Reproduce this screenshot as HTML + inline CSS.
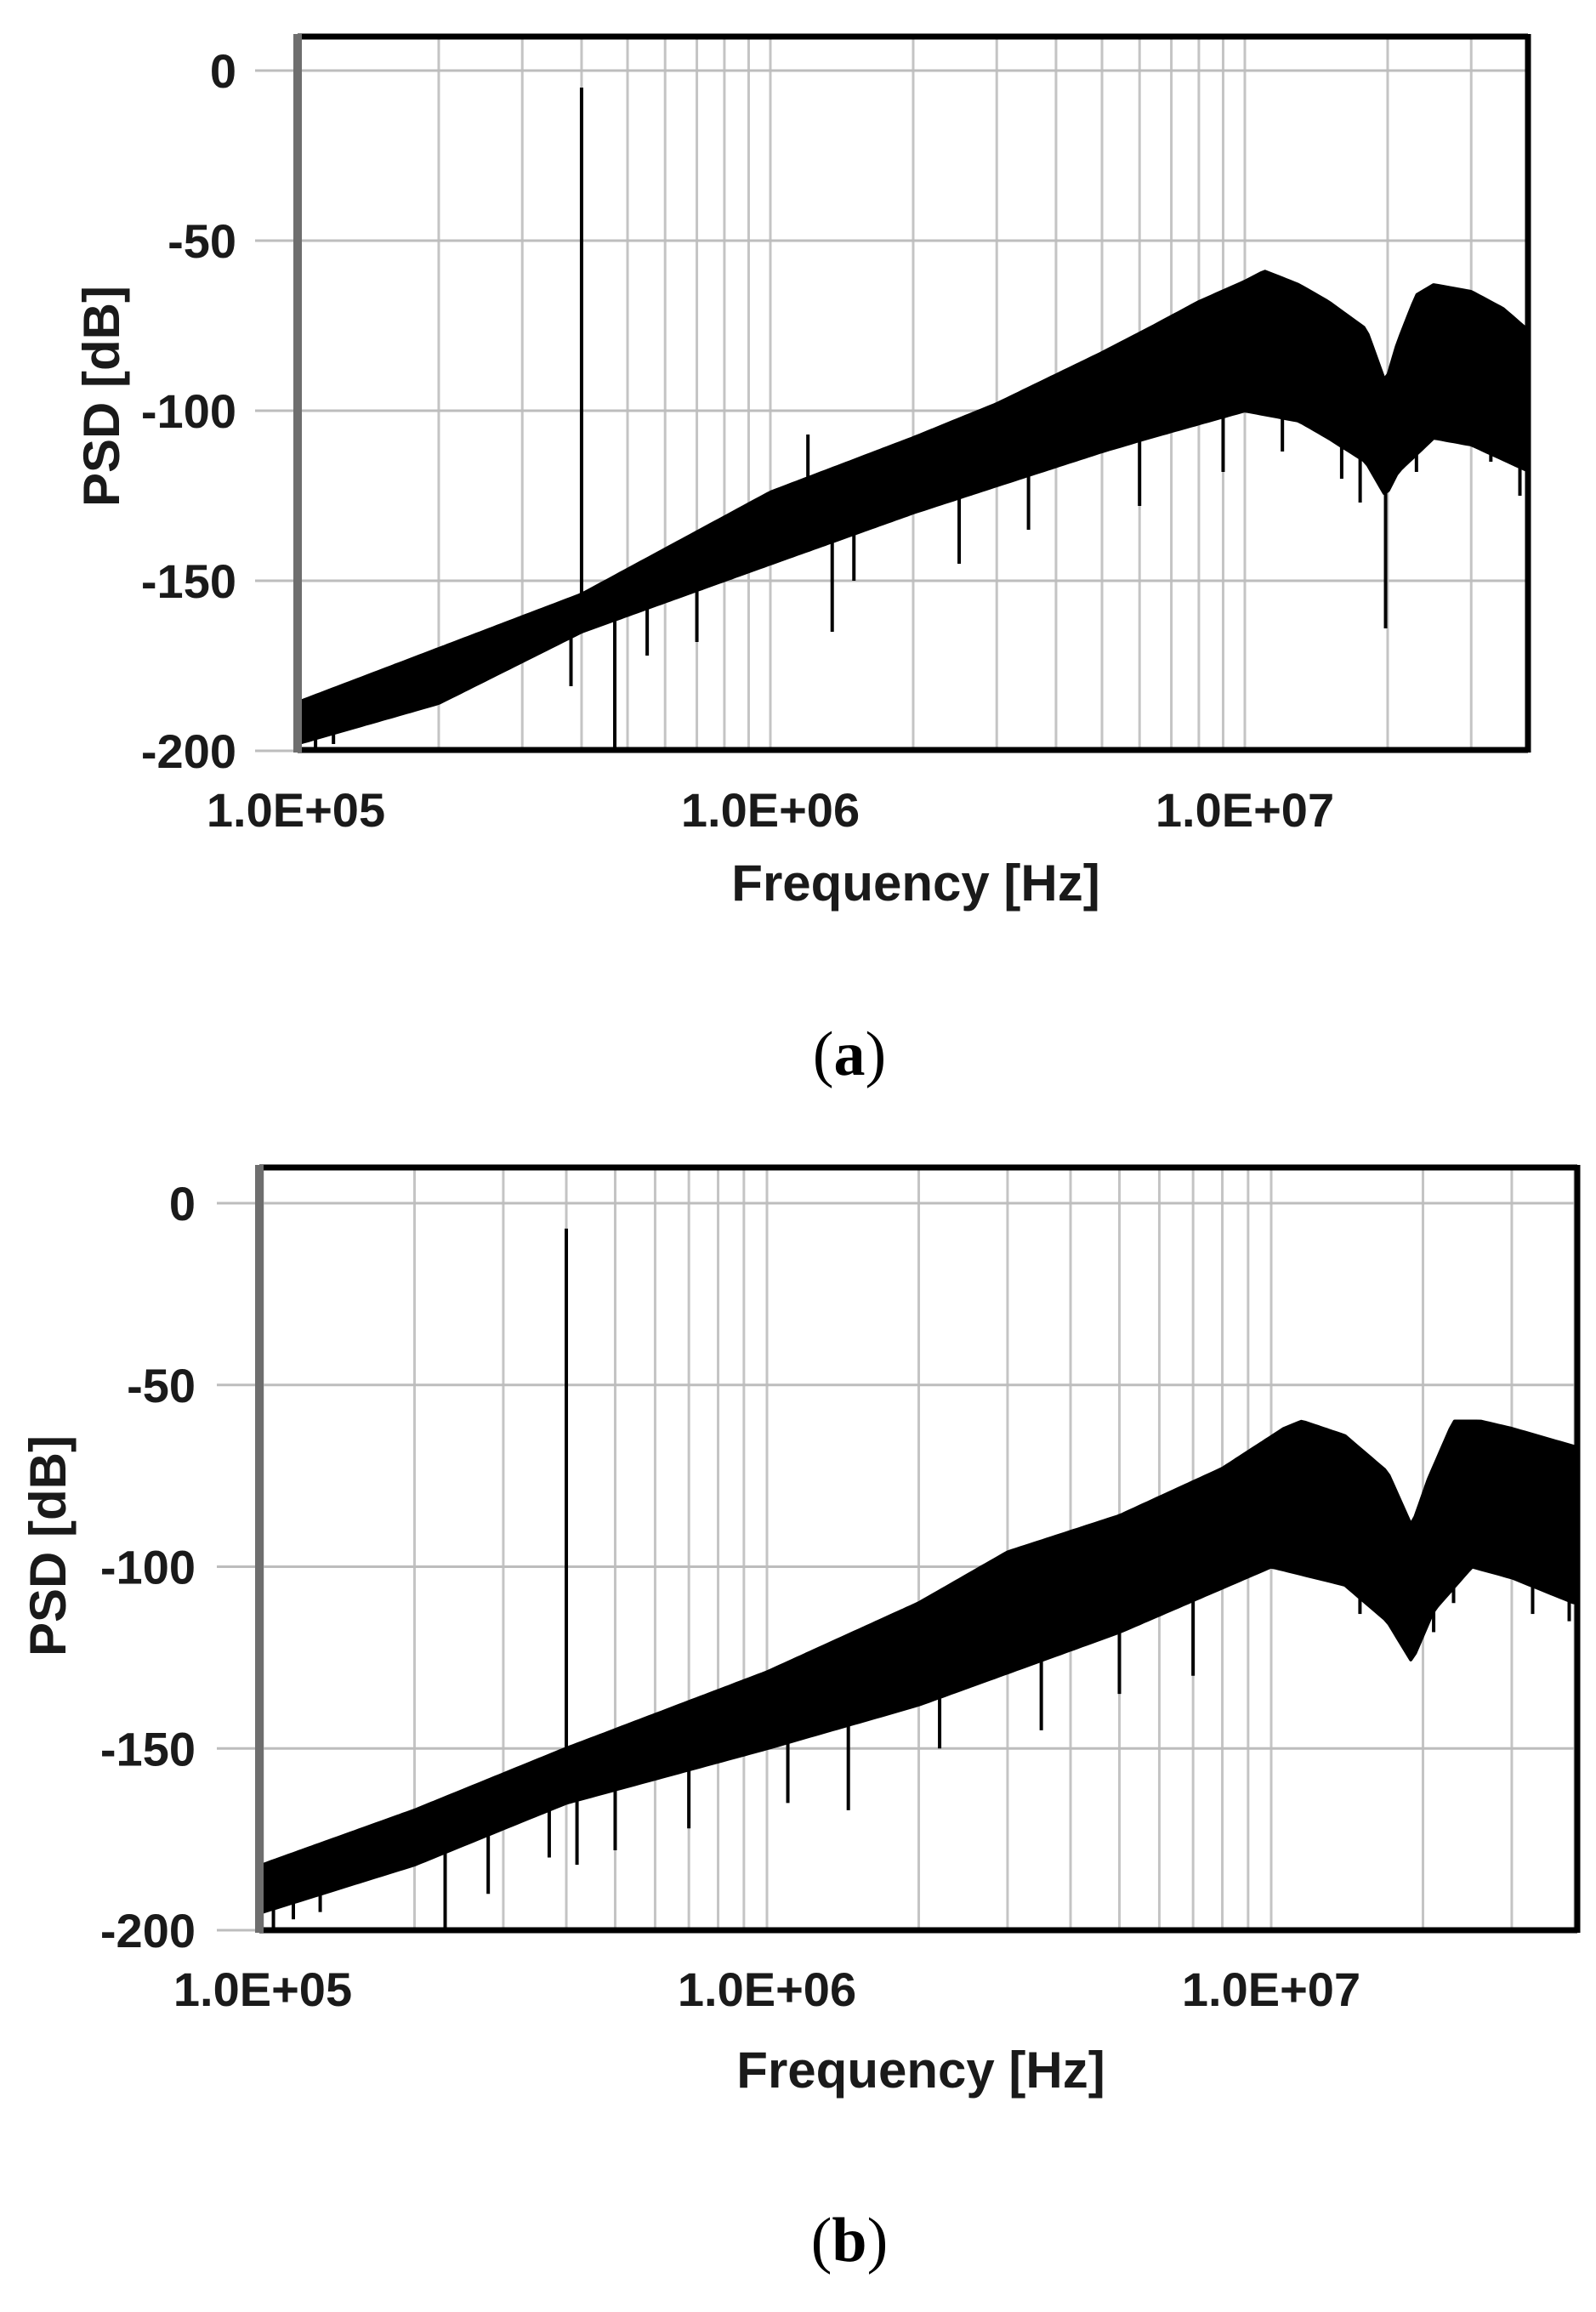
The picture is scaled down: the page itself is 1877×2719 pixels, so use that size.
<!DOCTYPE html>
<html><head><meta charset="utf-8"><style>
html,body{margin:0;padding:0;background:#fff;}
svg{display:block;}
.tk{font-family:"Liberation Sans",Arial,sans-serif;font-weight:bold;font-size:56px;fill:#1a1a1a;}
.ttl{font-family:"Liberation Sans",Arial,sans-serif;font-weight:bold;font-size:60px;fill:#1a1a1a;}
.cap{font-family:"Liberation Serif",serif;font-size:74px;fill:#000;}
</style></head><body>
<svg id="root" width="1877" height="2719" viewBox="0 0 1877 2719" xmlns="http://www.w3.org/2000/svg">
<rect width="1877" height="2719" fill="#fff"/>
</svg>
<script>
// ---- Chart (a) data ----
const yTicks = [0, -50, -100, -150, -200];
const xTickLabels = ["1.0E+05", "1.0E+06", "1.0E+07"];
const xTickValues = [1e5, 1e6, 1e7];
const aUpperF = [1e5, 2e5, 4e5, 1e6, 2e6, 3e6, 5e6, 6.25e6, 8e6, 1e7, 1.1e7, 1.3e7, 1.5e7, 1.8e7, 1.98e7, 2.1e7, 2.3e7, 2.5e7, 3e7, 3.5e7, 4e7];
const aUpperV = [-186, -170, -154, -124, -108, -98, -83, -76, -68, -62, -59, -63, -68, -76, -92, -80, -66, -63, -65, -70, -77];
const aLowerF = [1e5, 2e5, 4e5, 1e6, 2e6, 3e6, 5e6, 6.25e6, 1e7, 1.3e7, 1.5e7, 1.8e7, 1.98e7, 2.1e7, 2.5e7, 3e7, 4e7];
const aLowerV = [-198, -186, -165, -145, -130, -122, -112, -108, -100, -103, -108, -115, -125, -118, -108, -110, -118];
const aToneF = [4e5, 1.2e6];
const aToneV = [-5, -107];
const aDipF = [1.1e5, 1.2e5, 3.8e5, 4.7e5, 5.5e5, 7e5, 1.35e6, 1.5e6, 2.5e6, 3.5e6, 6e6, 9e6, 1.2e7, 1.6e7, 1.75e7, 1.98e7, 2.3e7, 3.3e7, 3.8e7];
const aDipV = [-200, -198, -181, -200, -172, -168, -165, -150, -145, -135, -128, -118, -112, -120, -127, -164, -118, -115, -125];
// ---- Chart (b) data ----
const bUpperF = [1e5, 2e5, 4e5, 1e6, 2e6, 3e6, 5e6, 8e6, 1.06e7, 1.15e7, 1.4e7, 1.7e7, 1.9e7, 2.05e7, 2.3e7, 2.6e7, 3e7, 4e7];
const bUpperV = [-182, -167, -150, -129, -110, -96, -86, -73, -62, -60, -64, -74, -89, -76, -60, -60, -62, -67];
const bLowerF = [1e5, 2e5, 4e5, 1e6, 2e6, 5e6, 1e7, 1.4e7, 1.7e7, 1.9e7, 2.1e7, 2.5e7, 3e7, 4e7];
const bLowerV = [-195, -182, -165, -150, -138, -118, -100, -105, -115, -126, -112, -100, -103, -110];
const bToneF = [4e5];
const bToneV = [-7];
const bDipF = [1.05e5, 1.15e5, 1.3e5, 2.3e5, 2.8e5, 3.7e5, 4.2e5, 5e5, 7e5, 1.1e6, 1.45e6, 2.2e6, 3.5e6, 5e6, 7e6, 1.5e7, 2.1e7, 2.3e7, 3.3e7, 3.9e7];
const bDipV = [-200, -197, -195, -200, -190, -180, -182, -178, -172, -165, -167, -150, -145, -135, -130, -113, -118, -110, -113, -115];

const NS = "http://www.w3.org/2000/svg";
const root = document.getElementById('root');
function mk(tag, attrs, parent){ const e=document.createElementNS(NS,tag); for(const k in attrs) e.setAttribute(k,attrs[k]); (parent||root).appendChild(e); return e; }
function interp(F,V,f){ const lf=Math.log10(f); for(let i=0;i<F.length-1;i++){ const a=Math.log10(F[i]),b=Math.log10(F[i+1]); if(lf>=a&&lf<=b){return V[i]+(V[i+1]-V[i])*(lf-a)/(b-a);} } return lf<Math.log10(F[0])?V[0]:V[V.length-1]; }

function chart(cfg){
  const g = mk('g',{});
  
  
  const xs = f => cfg.x0 + (Math.log10(f)-5)*cfg.dec;
  const ys = v => cfg.y0 - v*cfg.step/50;
  for(let d=5; d<=7; d++) for(let m=1;m<=9;m++){ const f=m*Math.pow(10,d); const x=xs(f); if(x<=cfg.left+2||x>=cfg.right-2) continue;
    const l=mk('line',{x1:x,y1:cfg.top,x2:x,y2:cfg.bottom,stroke:'#c4c4c4','stroke-width':3},g);
      }
  yTicks.forEach(v=>{ const y=ys(v); const l=mk('line',{x1:cfg.left-50,y1:y,x2:cfg.right,y2:y,stroke:'#bdbdbd','stroke-width':3},g);
     
    const t=mk('text',{x:cfg.yLabX,y:y+20,'text-anchor':'end',class:'tk'},g); t.textContent=String(v);
      });
  xTickValues.forEach((f,i)=>{ const t=mk('text',{x:xs(f),y:cfg.xLabY,'text-anchor':'middle',class:'tk'},g); t.textContent=xTickLabels[i];
      });
  const clipId='clip'+cfg.name; const cp=mk('clipPath',{id:clipId},g); mk('rect',{x:cfg.left,y:cfg.top,width:cfg.right-cfg.left,height:cfg.bottom-cfg.top},cp);
  const sg=mk('g',{'clip-path':'url(#'+clipId+')'},g);
   
  let pts=[]; const f0=1e5, f1=Math.pow(10,5+(cfg.right-cfg.x0)/cfg.dec);
  const N=300;
  for(let i=0;i<=N;i++){ const f=f0*Math.pow(f1/f0,i/N); pts.push(xs(f).toFixed(1)+','+ys(interp(cfg.uF,cfg.uV,f)).toFixed(1)); }
  for(let i=N;i>=0;i--){ const f=f0*Math.pow(f1/f0,i/N); pts.push(xs(f).toFixed(1)+','+ys(interp(cfg.lF,cfg.lV,f)).toFixed(1)); }
  const band=mk('polygon',{points:pts.join(' '),fill:'#000',stroke:'#000','stroke-width':4,'stroke-linejoin':'round'},sg);
   
  cfg.dF.forEach((f,i)=>{ const x=xs(f); const l=mk('line',{x1:x,y1:ys(interp(cfg.lF,cfg.lV,f))-4,x2:x,y2:ys(cfg.dV[i]),stroke:'#000','stroke-width':4},sg);
      });
  cfg.tF.forEach((f,i)=>{ const x=xs(f); const l=mk('line',{x1:x,y1:ys(interp(cfg.uF,cfg.uV,f))+4,x2:x,y2:ys(cfg.tV[i]),stroke:'#000','stroke-width':4},sg);
      });
  const fr=mk('g',{},g);  
  mk('line',{x1:cfg.left,y1:cfg.top,x2:cfg.right,y2:cfg.top,stroke:'#000','stroke-width':7},fr);
  mk('line',{x1:cfg.right,y1:cfg.top-3,x2:cfg.right,y2:cfg.bottom+3,stroke:'#000','stroke-width':7},fr);
  mk('line',{x1:cfg.left,y1:cfg.bottom,x2:cfg.right,y2:cfg.bottom,stroke:'#000','stroke-width':7},fr);
  mk('line',{x1:cfg.left,y1:cfg.top-3,x2:cfg.left,y2:cfg.bottom+3,stroke:'#6e6e6e','stroke-width':10},fr);
  const xt=mk('text',{x:cfg.xTitleX,y:cfg.xTitleY,'text-anchor':'middle',class:'ttl'},g); xt.textContent='Frequency [Hz]';
   
  const yt=mk('text',{x:0,y:0,'text-anchor':'middle',class:'ttl',transform:'translate('+cfg.yTitleX+','+cfg.yTitleY+') rotate(-90)'},g); yt.textContent='PSD [dB]';
   
  const cap=mk('text',{x:999,y:cfg.capY,'text-anchor':'middle',class:'cap'},g);
  cap.innerHTML='(<tspan font-weight="bold">'+cfg.capL+'</tspan>)';
   
}
chart({name:'chart-a',x0:348,dec:558,y0:83,step:200,left:350,right:1797,top:43,bottom:882,
  yLabX:278,xLabY:972,xTitleX:1077,xTitleY:1059,yTitleX:140,yTitleY:466,capY:1264,capL:'a',
  uF:aUpperF,uV:aUpperV,lF:aLowerF,lV:aLowerV,tF:aToneF,tV:aToneV,dF:aDipF,dV:aDipV});
chart({name:'chart-b',x0:309,dec:593,y0:1415,step:213.75,left:305,right:1855,top:1373,bottom:2270,
  yLabX:230,xLabY:2359,xTitleX:1083,xTitleY:2455,yTitleX:77,yTitleY:1818,capY:2659,capL:'b',
  uF:bUpperF,uV:bUpperV,lF:bLowerF,lV:bLowerV,tF:bToneF,tV:bToneV,dF:bDipF,dV:bDipV});
</script>
</body></html>
